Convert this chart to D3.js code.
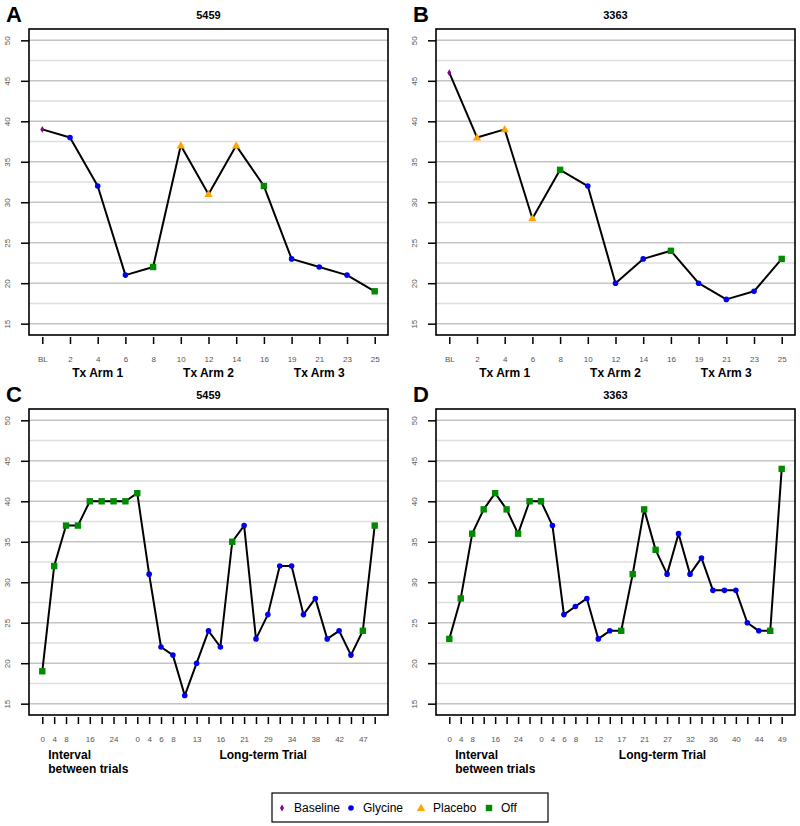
<!DOCTYPE html>
<html><head><meta charset="utf-8">
<script src="https://cdn.jsdelivr.net/npm/d3@7"></script>
<style>
body{margin:0;background:#fff;}
svg{display:block;font-family:"Liberation Sans",Arial,sans-serif;}
</style></head>
<body><svg id="c" width="800" height="826"></svg>
<script>
// ---- data ----
const armLabels = ["BL","2","4","6","8","10","12","14","16","19","21","23","25"];
const valuesA = [39,38,32,21,22,37,31,37,32,23,22,21,19];
const typesA  = ["B","G","G","G","O","P","P","P","O","G","G","G","O"];
const valuesB = [46,38,39,28,34,32,20,23,24,20,18,19,23];
const typesB  = ["B","P","P","P","O","G","G","G","O","G","G","G","O"];

const labelsC = ["0","4","8","","16","","24","","0","4","6","8","","13","","16","","21","","29","","34","","38","","42","","47",""];
const valuesC = [19,32,37,37,40,40,40,40,41,31,22,21,16,20,24,22,35,37,23,26,32,32,26,28,23,24,21,24,37];
const typesC  = ["O","O","O","O","O","O","O","O","O","G","G","G","G","G","G","G","O","G","G","G","G","G","G","G","G","G","G","O","O"];

const labelsD = ["0","4","8","","16","","24","","0","4","6","8","","12","","17","","21","","27","","32","","36","","40","","44","","49"];
const valuesD = [23,28,36,39,41,39,36,40,40,37,26,27,28,23,24,24,31,39,34,31,36,31,33,29,29,29,25,24,24,44];
const typesD  = ["O","O","O","O","O","O","O","O","O","G","G","G","G","G","G","O","O","O","O","G","G","G","G","G","G","G","G","G","O","O"];

const yTicks = [15,20,25,30,35,40,45,50];
const gridLines = [15,17.5,20,22.5,25,27.5,30,32.5,35,37.5,40,42.5,45,47.5,50];
const legendKeys = ["B","G","P","O"];
const legendNames = ["Baseline","Glycine","Placebo","Off"];
const colors = {B:"#8B008B", G:"#0000EE", P:"#FFA500", O:"#008B00"};

const svg = d3.select("#c");

function marker(g, type, x, y){
  const c = colors[type];
  if(type==="G"){
    g.append("circle").attr("cx",x).attr("cy",y).attr("r",2.8).attr("fill",c);
  } else if(type==="O"){
    g.append("rect").attr("x",x-3.2).attr("y",y-3.2).attr("width",6.4).attr("height",6.4).attr("fill",c);
  } else if(type==="P"){
    g.append("path").attr("d",d3.symbol(d3.symbolTriangle,30)()).attr("transform",`translate(${x},${y+0.5})`).attr("fill",c);
  } else {
    g.append("path").attr("d",d3.symbol(d3.symbolDiamond,14)()).attr("transform",`translate(${x},${y})`).attr("fill",c);
  }
}

function panel(opt){
  const {x0,x1,y0,y1,values,types,labels,title,letter} = opt;
  const n = values.length;
  const ext = 0.04*(n-1);
  const x = d3.scaleLinear().domain([1-ext, n+ext]).range([x0,x1]);
  const y = d3.scaleLinear().domain([15-1.4, 50+1.4]).range([y1,y0]);
  const g = svg.append("g");

  g.selectAll("line.grid").data(gridLines).join("line")
    .attr("x1",x0).attr("x2",x1)
    .attr("y1",d=>y(d)).attr("y2",d=>y(d))
    .attr("stroke",d=>d%5===0?"#c4c4c4":"#dedede")
    .attr("stroke-width",1.5);

  const ya = g.append("g").attr("transform",`translate(${x0},0)`)
    .call(d3.axisLeft(y).tickValues(yTicks).tickSize(8).tickFormat(d3.format("d")));
  ya.select(".domain").remove();
  ya.selectAll(".tick line").attr("stroke","#000").attr("stroke-width",1.5);
  ya.selectAll(".tick text").attr("x",0).attr("dy",0)
    .attr("transform",`translate(-19,0) rotate(-90)`)
    .attr("text-anchor","middle").attr("fill","#555").style("font-size","8px")
    .style("font-family","Liberation Sans, Arial, sans-serif");

  const idx = d3.range(1,n+1);
  const xa = g.append("g").attr("transform",`translate(0,${y1+2})`)
    .call(d3.axisBottom(x).tickValues(idx).tickSize(7).tickFormat((d,i)=>labels[i]));
  xa.select(".domain").remove();
  xa.selectAll(".tick line").attr("stroke","#000").attr("stroke-width",1.5);
  xa.selectAll(".tick text").attr("y",19).attr("fill","#555").style("font-size","8px")
    .style("font-family","Liberation Sans, Arial, sans-serif");

  const line = d3.line().x((d,i)=>x(i+1)).y(d=>y(d));
  g.append("path").datum(values).attr("d",line).attr("fill","none")
    .attr("stroke","#000").attr("stroke-width",2).attr("stroke-linejoin","round");

  values.forEach((v,i)=>marker(g, types[i], x(i+1), y(v)));

  g.append("rect").attr("x",x0).attr("y",y0).attr("width",x1-x0).attr("height",y1-y0)
    .attr("fill","none").attr("stroke","#000").attr("stroke-width",1.6);

  g.append("text").attr("x",(x0+x1)/2).attr("y",y0-10).attr("text-anchor","middle")
    .style("font-size","11px").style("font-weight","bold").text(title);
  g.append("text").attr("x",x0-23).attr("y",y0-7)
    .style("font-size","22px").style("font-weight","bold").text(letter);

  return {x,y,g};
}

const boxL = {x0:29, x1:388}, boxR = {x0:436, x1:795};
const rowTop = {y0:29, y1:335}, rowBot = {y0:409, y1:715};

const pA = panel({...boxL,...rowTop, values:valuesA, types:typesA, labels:armLabels, title:"5459", letter:"A"});
const pB = panel({...boxR,...rowTop, values:valuesB, types:typesB, labels:armLabels, title:"3363", letter:"B"});
const pC = panel({...boxL,...rowBot, values:valuesC, types:typesC, labels:labelsC, title:"5459", letter:"C"});
const pD = panel({...boxR,...rowBot, values:valuesD, types:typesD, labels:labelsD, title:"3363", letter:"D"});

const armNames = ["Tx Arm 1","Tx Arm 2","Tx Arm 3"];
const armCenters = [3,7,11];
[pA,pB].forEach(p=>{
  armNames.forEach((nm,i)=>{
    p.g.append("text").attr("x",p.x(armCenters[i])).attr("y",377).attr("text-anchor","middle")
      .style("font-size","12px").style("font-weight","bold").text(nm);
  });
});
[pC,pD].forEach(p=>{
  const xs = p.x(1)+6;
  p.g.append("text").attr("x",xs).attr("y",759).style("font-size","12px").style("font-weight","bold").text("Interval");
  p.g.append("text").attr("x",xs).attr("y",773).style("font-size","12px").style("font-weight","bold").text("between trials");
  p.g.append("text").attr("x",p.x(19.6)).attr("y",759).attr("text-anchor","middle")
    .style("font-size","12px").style("font-weight","bold").text("Long-term Trial");
});

const lg = svg.append("g");
lg.append("rect").attr("x",272).attr("y",793).attr("width",276).attr("height",29)
  .attr("fill","#fff").attr("stroke","#000").attr("stroke-width",1.2);
const legX = [282,351,421,489];
legendKeys.forEach((k,i)=>{
  marker(lg,k,legX[i],808);
  lg.append("text").attr("x",legX[i]+12).attr("y",812).style("font-size","12px").text(legendNames[i]);
});
</script></body></html>
